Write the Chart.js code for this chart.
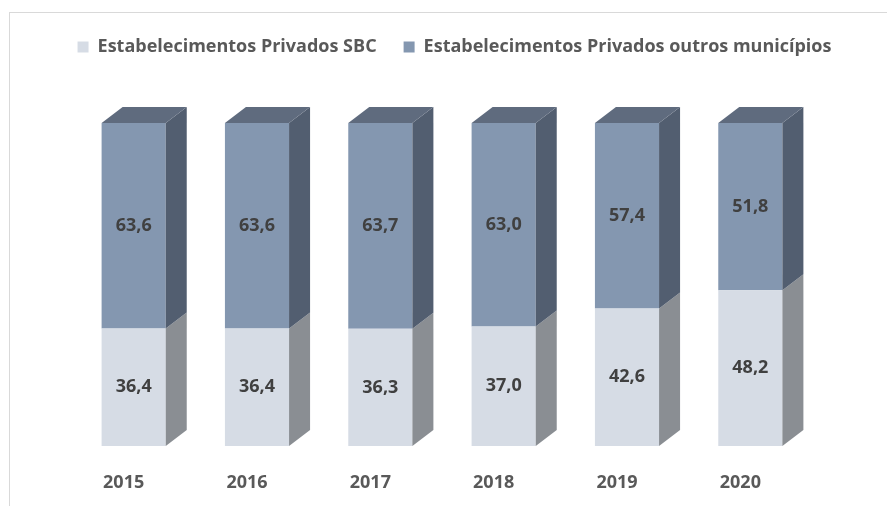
<!DOCTYPE html>
<html>
<head>
<meta charset="utf-8">
<title>Estabelecimentos Privados</title>
<script src="https://cdn.jsdelivr.net/npm/chart.js@4/dist/chart.umd.min.js"></script>
<style>
    html, body { margin: 0; padding: 0; background: #fff; }
    #wrap { position: relative; width: 887px; height: 506px; overflow: hidden; }
    #frame { position: absolute; left: 9px; top: 12px; width: 900px; height: 520px; border-left: 1px solid #d9d9d9; border-top: 1px solid #d9d9d9; }
    #chart { position: absolute; left: 0; top: 0; }
</style>
</head>
<body>
<div id="wrap">
    <div id="frame"></div>
    <canvas id="chart" width="887" height="506"></canvas>
</div>
<script>
// --- data ---
const years = ['2015', '2016', '2017', '2018', '2019', '2020'];
const sbc = [36.4, 36.4, 36.3, 37.0, 42.6, 48.2];
const outros = [63.6, 63.6, 63.7, 63.0, 57.4, 51.8];
const seriesNames = ['Estabelecimentos Privados SBC', 'Estabelecimentos Privados outros municípios'];

// colours: front face, side face, top face
const frontColors = ['#d6dce5', '#8497b0'];
const sideColors = ['#8a8e93', '#525e70'];
const topColor = '#5f6b7e';
const DX = 21, DY = 16; // depth of the fake 3d

const fmt = v => v.toFixed(1).replace('.', ',');

// draws side + top faces and the value labels on each bar
const box3d = {
    id: 'box3d',
    afterDatasetsDraw(chart) {
        const ctx = chart.ctx;
        const last = chart.data.datasets.length - 1;

        chart.data.datasets.forEach((ds, di) => {
            const meta = chart.getDatasetMeta(di);
            meta.data.forEach((bar, i) => {
                const { x, y, base, width } = bar.getProps(['x', 'y', 'base', 'width'], true);
                const left = x - width / 2, right = x + width / 2;

                ctx.save();
                ctx.fillStyle = sideColors[di];
                ctx.beginPath();
                ctx.moveTo(right, y);
                ctx.lineTo(right + DX, y - DY);
                ctx.lineTo(right + DX, base - DY);
                ctx.lineTo(right, base);
                ctx.closePath();
                ctx.fill();

                if (di === last) {
                    ctx.fillStyle = topColor;
                    ctx.beginPath();
                    ctx.moveTo(left, y);
                    ctx.lineTo(left + DX, y - DY);
                    ctx.lineTo(right + DX, y - DY);
                    ctx.lineTo(right, y);
                    ctx.closePath();
                    ctx.fill();
                }

                // value label
                ctx.fillStyle = '#404040';
                ctx.font = 'bold 18px "Open Sans", sans-serif';
                ctx.textAlign = 'center';
                ctx.textBaseline = 'middle';
                ctx.fillText(fmt(ds.data[i]), x, (y + base) / 2);
                ctx.restore();
            });
        });
    }
};

const hiddenAxis = (pos, w) => ({
    position: pos,
    stacked: true,
    min: 0,
    max: 100,
    ticks: { display: false },
    grid: { display: false, drawTicks: false },
    border: { display: false },
    afterFit: s => { s.width = w; }
});

new Chart(document.getElementById('chart'), {
    type: 'bar',
    data: {
        labels: years,
        datasets: [
            { label: seriesNames[0], data: sbc, backgroundColor: frontColors[0], yAxisID: 'y' },
            { label: seriesNames[1], data: outros, backgroundColor: frontColors[1], yAxisID: 'y' }
        ]
    },
    options: {
        responsive: false,
        animation: false,
        events: [],
        layout: { padding: { top: 11, bottom: 12, left: 22, right: 0 } },
        datasets: { bar: { barPercentage: 0.52, categoryPercentage: 1 } },
        scales: {
            x: {
                stacked: true,
                grid: { display: false, drawTicks: false },
                border: { display: false },
                ticks: {
                    padding: 26,
                    labelOffset: -10,
                    color: '#595959',
                    font: { family: '"Open Sans", sans-serif', size: 18, weight: 'bold' }
                },
                afterFit: s => { s.height = 48; }
            },
            y: hiddenAxis('left', 50),
            yRight: hiddenAxis('right', 75)
        },
        plugins: {
            legend: {
                position: 'top',
                weight: 3000,
                labels: {
                    boxWidth: 11,
                    boxHeight: 11,
                    padding: 27,
                    color: '#595959',
                    font: { family: '"Open Sans", sans-serif', size: 18, weight: 'bold' }
                }
            },
            // empty title used only as a spacer between legend and bars
            title: {
                display: true,
                text: ' ',
                font: { size: 10, lineHeight: 1 },
                padding: { top: 0, bottom: 47 }
            },
            tooltip: { enabled: false }
        }
    },
    plugins: [box3d]
});
</script>
</body>
</html>
